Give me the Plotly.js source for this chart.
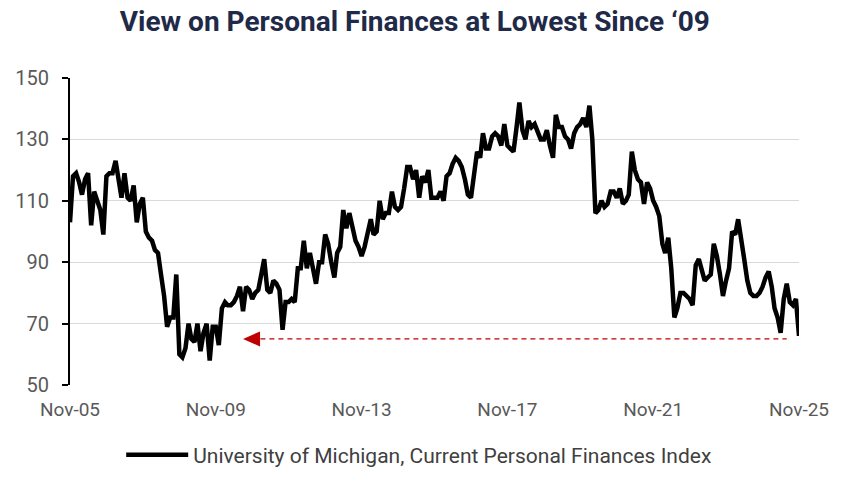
<!DOCTYPE html>
<html>
<head>
<meta charset="utf-8">
<script src="https://cdn.plot.ly/plotly-3.0.1.min.js"></script>
<style>html,body{margin:0;padding:0;background:#fff;}#chart{width:850px;height:487px;}</style>
</head>
<body>
<div id="chart"></div>
<script>
// Monthly values, Nov 2005 onward, in 4-year blocks
var valuesNov05toOct09 = [103,118,119,116,112,117,119,102,113,110,107,99,
  118,119,119,123,118,111,119,111,110,115,103,109,
  111,100,98,97,94,93,86,79,69,72,72,86,
  60,59,62,70,65,64,70,61,67,70,58,69];
var valuesNov09toOct13 = [69,63,75,77,76,76,77,79,82,74,82,81,
  78,80,81,86,91,81,80,84,83,81,68,77,
  77,78,77,88,88,97,88,93,87,83,90,90,
  99,96,90,85,93,95,107,101,106,101,97,95];
var valuesNov13toOct17 = [92,95,99,104,99,100,110,104,106,106,113,108,
  107,108,114,121,121,117,120,111,118,116,120,111,
  111,111,113,110,118,119,122,124,123,121,117,112,
  111,118,126,124,132,127,127,131,132,131,128,135];
var valuesNov17toOct21 = [128,127,126,134,142,133,130,136,134,135,132,130,
  130,133,128,124,138,134,134,131,130,127,132,134,
  135,137,134,141,130,106,107,110,108,109,113,113,
  111,114,109,110,112,126,120,117,116,109,116,114];
var valuesNov21toNov25 = [110,108,105,96,93,98,88,72,75,80,80,79,
  78,76,89,91,87,84,85,86,96,92,86,79,
  84,88,100,99,104,96,91,84,80,79,79,80,
  82,85,87,82,75,72,67,78,83,77,76,78,66];

var startYear = 2005, startMonth = 11;
var tickDates = ['2005-11-01','2009-11-01','2013-11-01','2017-11-01','2021-11-01','2025-11-01'];
var tickLabels = ['Nov-05','Nov-09','Nov-13','Nov-17','Nov-21','Nov-25'];
var seriesName = 'University of Michigan, Current Personal Finances Index';
var lowLevel = 65;
var arrowTipDate = '2010-08-01';
var arrowLineStart = '2011-01-22';
var arrowLineEnd = '2025-07-01';

var values = [].concat(valuesNov05toOct09, valuesNov09toOct13, valuesNov13toOct17, valuesNov17toOct21, valuesNov21toNov25);
var dates = values.map(function(v, i){
  var m = startMonth - 1 + i;
  var y = startYear + Math.floor(m / 12);
  var mm = (m % 12) + 1;
  return y + '-' + (mm < 10 ? '0' : '') + mm + '-01';
});

var red = '#c00000';
var trace = {
  x: dates, y: values, type: 'scatter', mode: 'lines', name: seriesName,
  line: {color: '#000000', width: 4.5}
};

var layout = {
  width: 850, height: 487,
  margin: {l: 70, r: 51, t: 78, b: 102},
  paper_bgcolor: '#ffffff', plot_bgcolor: '#ffffff',
  title: {
    text: '<b>View on Personal Finances at Lowest Since \u201809</b>',
    font: {family: 'Roboto, Arial, sans-serif', size: 28, color: '#1f2a48'},
    xref: 'container', x: 0.488, xanchor: 'center',
    yref: 'container', y: 0.957, yanchor: 'middle'
  },
  xaxis: {
    type: 'date', range: ['2005-11-01', '2025-11-01'],
    tickvals: tickDates, ticktext: tickLabels,
    showgrid: false, showline: false, zeroline: false, ticks: '',
    ticklabelstandoff: 11,
    tickfont: {family: 'Roboto, Arial, sans-serif', size: 19, color: '#595959'}
  },
  yaxis: {
    range: [50, 150], tick0: 50, dtick: 20,
    showgrid: true, gridcolor: '#d9d9d9', gridwidth: 1.3,
    showline: true, linecolor: '#000000', linewidth: 2,
    ticks: 'outside', ticklen: 6, tickcolor: '#000000', tickwidth: 2,
    zeroline: false, ticklabelstandoff: 9,
    tickfont: {family: 'Roboto, Arial, sans-serif', size: 20, color: '#595959'}
  },
  showlegend: true,
  legend: {
    orientation: 'h', x: 0.479, xanchor: 'center', xref: 'paper',
    y: -0.228, yanchor: 'middle',
    itemwidth: 62,
    font: {family: 'Roboto, Arial, sans-serif', size: 21, color: '#404040'}
  },
  shapes: [
    {type: 'line', xref: 'x', yref: 'y', x0: arrowLineStart, x1: arrowLineEnd, y0: lowLevel, y1: lowLevel,
     line: {color: red, width: 1.3, dash: '5px,4px'}},
    {type: 'path', xref: 'x', yref: 'y', xsizemode: 'pixel', ysizemode: 'pixel',
     xanchor: arrowTipDate, yanchor: lowLevel,
     path: 'M0,0 L17,-7.5 L17,7.5 Z', fillcolor: red, line: {width: 0}}
  ]
};

Plotly.newPlot('chart', [trace], layout, {displayModeBar: false, staticPlot: true});
</script>
</body>
</html>
